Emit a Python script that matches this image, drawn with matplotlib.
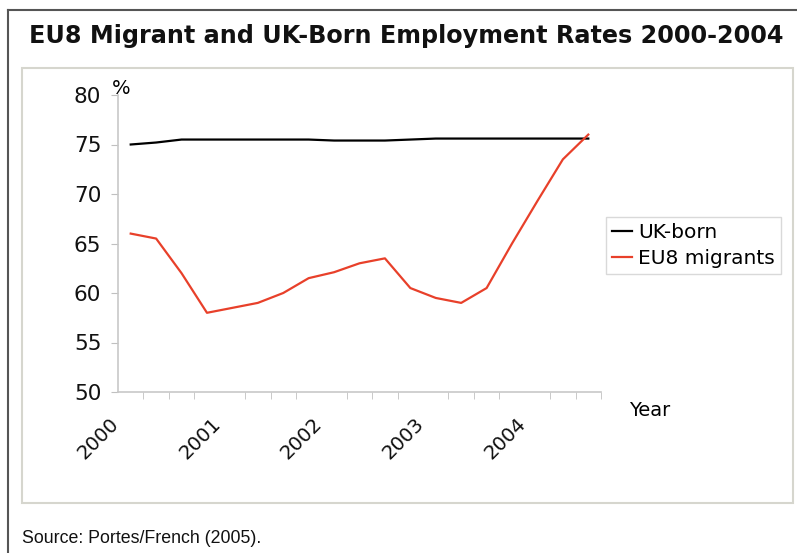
import numpy as np
import matplotlib.pyplot as plt
import matplotlib.transforms as mtransforms
from matplotlib.patches import Rectangle
from matplotlib.lines import Line2D

plt.rcParams['font.family'] = ['DejaVu Sans']

# quarterly observations, 2000 Q1 onwards
quarters = list(range(19))
year_labels = ['2000', '2001', '2002', '2003', '2004']
year_positions = [-0.5, 3.5, 7.5, 11.5, 15.5]

uk_born = [75.0, 75.2, 75.5, 75.5, 75.5, 75.5, 75.5, 75.5, 75.4, 75.4,
           75.4, 75.5, 75.6, 75.6, 75.6, 75.6, 75.6, 75.6, 75.6]
eu8_migrants = [66.0, 65.5, 62.0, 58.0, 58.5, 59.0, 60.0, 61.5, 62.1, 63.0,
                63.5, 60.5, 59.5, 59.0, 60.5, 65.0, 69.3, 73.5, 76.0]

W, H = 797, 553
fig = plt.figure(figsize=(W / 100, H / 100), dpi=100)
fig.patch.set_facecolor('white')

def px(x, y):
    # pixel coords (top-left origin) -> figure fraction
    return x / W, 1 - y / H

# outer frame (top + left only visible)
fig.add_artist(Line2D([8 / W, 1], [1 - 10 / H, 1 - 10 / H], color='#555555', lw=1.5))
fig.add_artist(Line2D([8 / W, 8 / W], [0, 1 - 10 / H], color='#555555', lw=1.5))

# inner chart box
x0, y0 = px(22, 503)
fig.add_artist(Rectangle((x0, y0), (793 - 22) / W, (503 - 68) / H, transform=fig.transFigure,
                         fill=False, edgecolor='#d6d6ce', lw=1.5))

tx, ty = px(406, 43)
fig.text(tx, ty, 'EU8 Migrant and UK-Born Employment Rates 2000-2004',
         ha='center', va='baseline', fontsize=17.2, fontweight='bold', color='#111111')
sx, sy = px(22, 543)
fig.text(sx, sy, 'Source: Portes/French (2005).', ha='left', va='baseline',
         fontsize=12.8, color='#111111', family='Liberation Sans')

left, bottom = px(118, 392)
right, top = px(601, 95)
ax = fig.add_axes([left, bottom, right - left, top - bottom])

ax.plot(quarters, uk_born, color='black', lw=1.6, label='UK-born')
ax.plot(quarters, eu8_migrants, color='#e8402a', lw=1.6, label='EU8 migrants')

ax.set_xlim(-0.5, 18.5)
ax.set_ylim(50, 80)
ax.set_yticks(np.arange(50, 81, 5))
ax.tick_params(axis='y', labelsize=15.5, length=5, color='#c0c0c0', pad=7, labelcolor='#111111')

ax.set_xticks(year_positions)
ax.set_xticklabels(year_labels, rotation=45, ha='right', va='center',
                   rotation_mode='anchor', fontsize=14.2, color='#111111')
ax.set_xticks(np.arange(-0.5, 19, 1), minor=True)
ax.tick_params(axis='x', which='major', length=0, pad=21)
ax.tick_params(axis='x', which='minor', length=5, color='#c0c0c0')
shift = mtransforms.ScaledTranslation(-2 / 100, 0, fig.dpi_scale_trans)
for lab in ax.get_xticklabels():
    lab.set_transform(lab.get_transform() + shift)

for s in ['top', 'right']:
    ax.spines[s].set_visible(False)
for s in ['left', 'bottom']:
    ax.spines[s].set_color('#c8c8c8')
    ax.spines[s].set_linewidth(1.2)

fig.text(px(121, 89)[0], px(121, 89)[1], '%', ha='center', va='center', fontsize=14)
fig.text(px(629, 411)[0], px(629, 411)[1], 'Year', ha='left', va='center', fontsize=14)

leg = fig.legend(loc='upper left', bbox_to_anchor=px(606, 217), fontsize=14.5,
                 handlelength=1.0, handletextpad=0.3, borderpad=0.3, labelspacing=0.36,
                 fancybox=False, frameon=True, edgecolor='#d0d0d0', borderaxespad=0)
leg.get_frame().set_linewidth(1.0)

fig.savefig('out.png', dpi=100)
